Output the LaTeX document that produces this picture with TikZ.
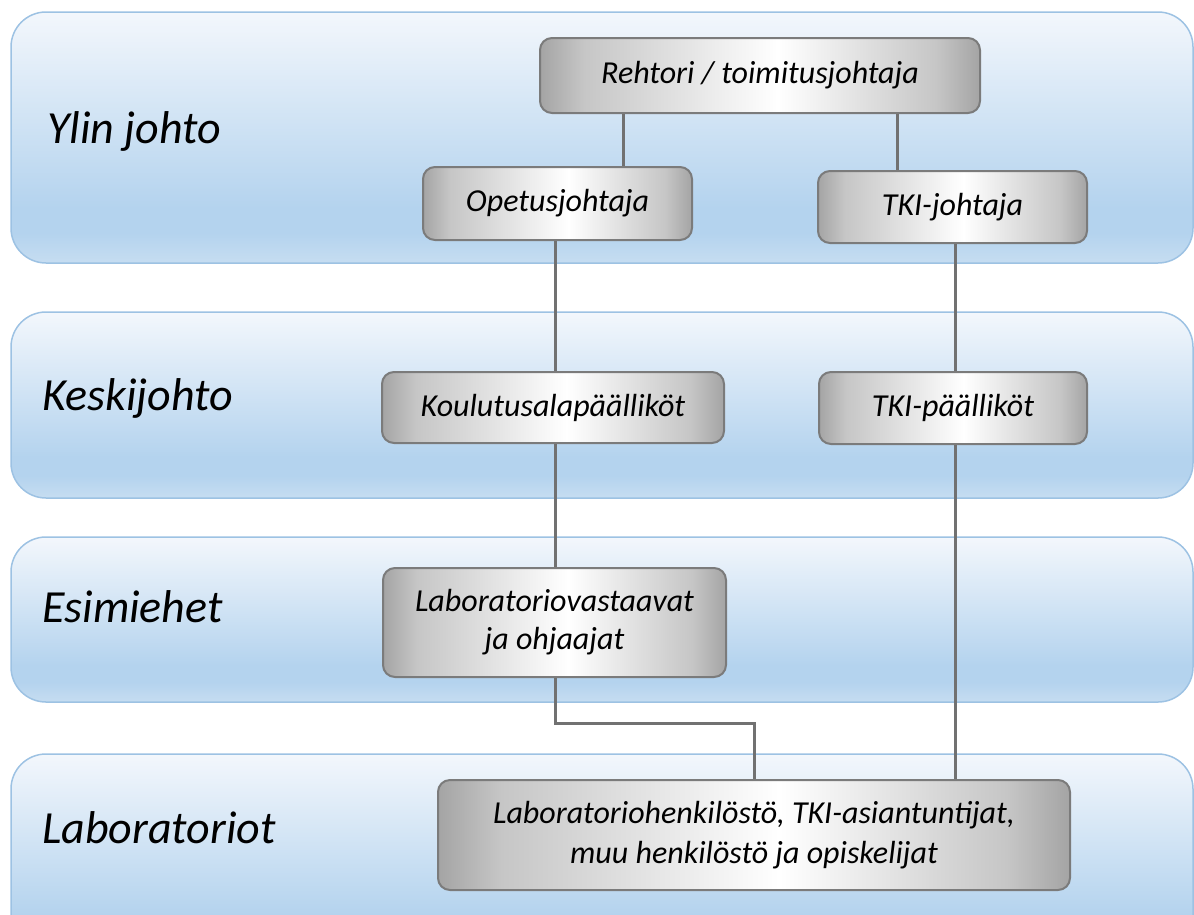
\documentclass[tikz,border=0pt]{standalone}
\usepackage{fontspec}
\setmainfont{Carlito}
\usetikzlibrary{calc}
\definecolor{bandtop}{HTML}{F3F7FC}
\definecolor{bandmid}{HTML}{B4D3EE}
\definecolor{bandbot}{HTML}{C6DDF1}
\definecolor{bandline}{HTML}{9DC2E3}
\definecolor{boxline}{HTML}{7B7B7B}
\definecolor{boxedge}{HTML}{A4A4A4}
\definecolor{boxsoft}{HTML}{C6C6C6}
\definecolor{conn}{HTML}{717171}
\pgfdeclareverticalshading{bandshade}{100bp}{color(0bp)=(bandbot); color(25bp)=(bandbot); color(31bp)=(bandmid); color(36bp)=(bandmid); color(75bp)=(bandtop); color(100bp)=(bandtop)}
\pgfdeclarehorizontalshading{boxshade}{100bp}{color(0bp)=(boxedge); color(25bp)=(boxedge); color(30bp)=(boxsoft); color(52bp)=(white); color(70bp)=(boxsoft); color(75bp)=(boxedge); color(100bp)=(boxedge)}
\tikzset{
  band/.style={draw=bandline, line width=1.5pt, shading=bandshade, rounded corners=35pt},
  bandlabel/.style={anchor=base west, inner sep=0pt, font=\fontsize{46}{52}\selectfont\itshape, text=black},
  orgbox/.style={draw=boxline, line width=2pt, shading=boxshade, rounded corners=12pt, align=center, inner sep=0pt, font=\fontsize{32}{38}\selectfont\itshape, text=black},
  link/.style={draw=conn, line width=3pt}
}
\begin{document}
\begin{tikzpicture}[x=1pt,y=-1pt]
\useasboundingbox (0,0) rectangle (1194,914);
% bands
\path[band] (11,12) rectangle (1193,263);
\path[band] (11,312) rectangle (1193,498);
\path[band] (11,537) rectangle (1193,702);
\path[band] (11,754) rectangle (1193,960);
\node[bandlabel] (l1) at (47,143) {Ylin johto};
\node[bandlabel] (l2) at (42,410) {Keskijohto};
\node[bandlabel] (l3) at (42,622) {Esimiehet};
\node[bandlabel] (l4) at (42,843) {Laboratoriot};
\coordinate (xl) at (555,0);
\coordinate (xr) at (955,0);
\coordinate (x1) at (623,0);
\coordinate (x2) at (897,0);
% boxes
\node[orgbox, minimum width=440pt, minimum height=75pt] (rehtori) at (760,75.5) {Rehtori / toimitusjohtaja};
\node[orgbox, minimum width=269pt, minimum height=73pt] (opet) at (557.5,203.5) {Opetusjohtaja};
\node[orgbox, minimum width=269pt, minimum height=72pt] (tkij) at (952.5,207) {TKI-johtaja};
\node[orgbox, minimum width=342pt, minimum height=71pt] (koul) at (553,407.5) {Koulutusalapäälliköt};
\node[orgbox, minimum width=268pt, minimum height=72pt] (tkip) at (953,408) {TKI-päälliköt};
\node[orgbox, minimum width=343pt, minimum height=109pt] (labv) at (554.5,622.5) {Laboratoriovastaavat\\ja ohjaajat};
\node[orgbox, minimum width=632pt, minimum height=110pt, font=\fontsize{32}{40}\selectfont\itshape] (labh) at (754,835) {Laboratoriohenkilöstö, TKI-asiantuntijat,\\muu henkilöstö ja opiskelijat};
% connectors
\draw[link] (rehtori.south -| x1) -- (opet.north -| x1);
\draw[link] (rehtori.south -| x2) -- (tkij.north -| x2);
\draw[link] (opet.south -| xl) -- (koul.north -| xl);
\draw[link] (tkij.south -| xr) -- (tkip.north -| xr);
\draw[link] (koul.south -| xl) -- (labv.north -| xl);
\draw[link] (tkip.south -| xr) -- (labh.north -| xr);
\draw[link] (labv.south -| xl) -- ++(0,45) -| (labh.north);
\end{tikzpicture}
\end{document}
